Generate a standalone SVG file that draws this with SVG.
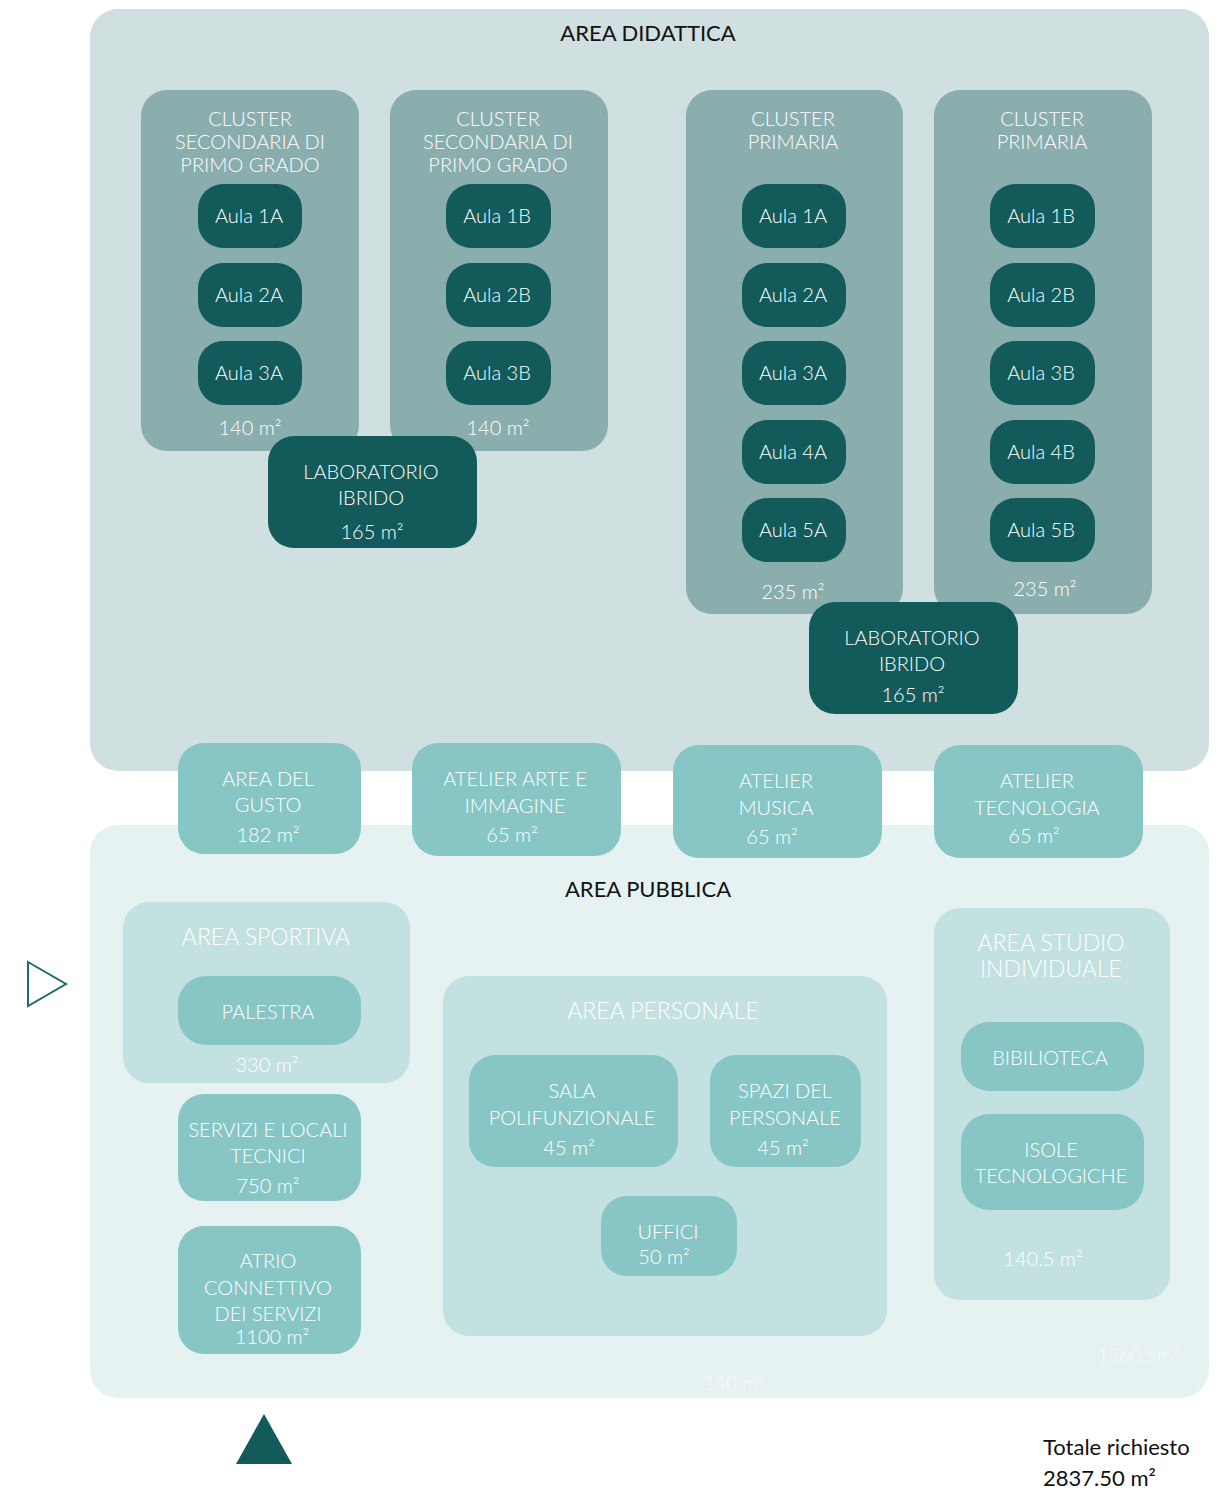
<svg xmlns="http://www.w3.org/2000/svg" width="1226" height="1493" viewBox="0 0 1226 1493">
  <style>
    text { font-family: "Lato", "Noto Sans", "Liberation Sans", sans-serif; text-anchor: middle; }
    .zone-did { fill: #d0dfdf; }
    .zone-pub { fill: #e6f2f2; }
    .cluster { fill: #8aadad; }
    .aula { fill: #135a5a; }
    .light { fill: #87c6c5; }
    .sub { fill: #c2e1e0; }
    .t { fill: #ffffff; font-size: 20px; font-weight: 300; }
    .tl { fill: #ffffff; font-size: 20px; font-weight: 300; }
    .head { fill: #111111; font-size: 22px; font-weight: 400; }
    .sect { fill: #ffffff; font-size: 23px; font-weight: 300; }
    .faint { fill: #f4fafa; font-size: 19px; font-weight: 300; }
    .total { fill: #111111; font-size: 22px; font-weight: 400; text-anchor: start; }
  </style>

  <!-- main zones -->
  <g id="area-didattica">
    <rect class="zone-did" x="90" y="9" width="1119" height="762" rx="28"/>
    <text class="head" x="648" y="41">AREA DIDATTICA</text>
  </g>
  <g id="area-pubblica">
    <rect class="zone-pub" x="90" y="825" width="1119" height="573" rx="28"/>
    <text class="head" x="648" y="897">AREA PUBBLICA</text>
    <text class="faint" x="1138" y="1362">1360.5m²</text>
    <text class="faint" x="734" y="1390">140 m²</text>
  </g>

  <!-- clusters: secondaria -->
  <g id="cluster-sec-a">
    <rect class="cluster" x="141" y="90" width="218" height="361" rx="26"/>
    <text class="tl" x="250" y="126">CLUSTER</text>
    <text class="tl" x="250" y="149">SECONDARIA DI</text>
    <text class="tl" x="250" y="172">PRIMO GRADO</text>
    <text class="tl" x="250" y="435">140 m²</text>
  </g>
  <g id="cluster-sec-b">
    <rect class="cluster" x="390" y="90" width="218" height="361" rx="26"/>
    <text class="tl" x="498" y="126">CLUSTER</text>
    <text class="tl" x="498" y="149">SECONDARIA DI</text>
    <text class="tl" x="498" y="172">PRIMO GRADO</text>
    <text class="tl" x="498" y="435">140 m²</text>
  </g>
  <!-- clusters: primaria -->
  <g id="cluster-pri-a">
    <rect class="cluster" x="686" y="90" width="217" height="524" rx="26"/>
    <text class="tl" x="793" y="126">CLUSTER</text>
    <text class="tl" x="793" y="149">PRIMARIA</text>
    <text class="tl" x="793" y="599">235 m²</text>
  </g>
  <g id="cluster-pri-b">
    <rect class="cluster" x="934" y="90" width="218" height="524" rx="26"/>
    <text class="tl" x="1042" y="126">CLUSTER</text>
    <text class="tl" x="1042" y="149">PRIMARIA</text>
    <text class="tl" x="1045" y="596">235 m²</text>
  </g>

  <!-- classrooms -->
  <g id="aula-sec-1a"><rect class="aula" x="198" y="184" width="104" height="64" rx="25"/><text class="t" x="249" y="223">Aula 1A</text></g>
  <g id="aula-sec-2a"><rect class="aula" x="198" y="263" width="104" height="64" rx="25"/><text class="t" x="249" y="302">Aula 2A</text></g>
  <g id="aula-sec-3a"><rect class="aula" x="198" y="341" width="104" height="64" rx="25"/><text class="t" x="249" y="380">Aula 3A</text></g>
  <g id="aula-sec-1b"><rect class="aula" x="446" y="184" width="105" height="64" rx="25"/><text class="t" x="497" y="223">Aula 1B</text></g>
  <g id="aula-sec-2b"><rect class="aula" x="446" y="263" width="105" height="64" rx="25"/><text class="t" x="497" y="302">Aula 2B</text></g>
  <g id="aula-sec-3b"><rect class="aula" x="446" y="341" width="105" height="64" rx="25"/><text class="t" x="497" y="380">Aula 3B</text></g>

  <g id="aula-pri-1a"><rect class="aula" x="742" y="184" width="104" height="64" rx="25"/><text class="t" x="793" y="223">Aula 1A</text></g>
  <g id="aula-pri-2a"><rect class="aula" x="742" y="263" width="104" height="64" rx="25"/><text class="t" x="793" y="302">Aula 2A</text></g>
  <g id="aula-pri-3a"><rect class="aula" x="742" y="341" width="104" height="64" rx="25"/><text class="t" x="793" y="380">Aula 3A</text></g>
  <g id="aula-pri-4a"><rect class="aula" x="742" y="420" width="104" height="64" rx="25"/><text class="t" x="793" y="459">Aula 4A</text></g>
  <g id="aula-pri-5a"><rect class="aula" x="742" y="498" width="104" height="64" rx="25"/><text class="t" x="793" y="537">Aula 5A</text></g>
  <g id="aula-pri-1b"><rect class="aula" x="990" y="184" width="105" height="64" rx="25"/><text class="t" x="1041" y="223">Aula 1B</text></g>
  <g id="aula-pri-2b"><rect class="aula" x="990" y="263" width="105" height="64" rx="25"/><text class="t" x="1041" y="302">Aula 2B</text></g>
  <g id="aula-pri-3b"><rect class="aula" x="990" y="341" width="105" height="64" rx="25"/><text class="t" x="1041" y="380">Aula 3B</text></g>
  <g id="aula-pri-4b"><rect class="aula" x="990" y="420" width="105" height="64" rx="25"/><text class="t" x="1041" y="459">Aula 4B</text></g>
  <g id="aula-pri-5b"><rect class="aula" x="990" y="498" width="105" height="64" rx="25"/><text class="t" x="1041" y="537">Aula 5B</text></g>

  <!-- hybrid labs -->
  <g id="lab-sec">
    <rect class="aula" x="268" y="436" width="209" height="112" rx="26"/>
    <text class="tl" x="371" y="479">LABORATORIO</text>
    <text class="tl" x="371" y="505">IBRIDO</text>
    <text class="tl" x="372" y="539">165 m²</text>
  </g>
  <g id="lab-pri">
    <rect class="aula" x="809" y="602" width="209" height="112" rx="26"/>
    <text class="tl" x="912" y="645">LABORATORIO</text>
    <text class="tl" x="912" y="671">IBRIDO</text>
    <text class="tl" x="913" y="702">165 m²</text>
  </g>

  <!-- ateliers straddling both zones -->
  <g id="area-gusto">
    <rect class="light" x="178" y="743" width="183" height="111" rx="26"/>
    <text class="tl" x="268" y="786">AREA DEL</text>
    <text class="tl" x="268" y="812">GUSTO</text>
    <text class="tl" x="268" y="842">182 m²</text>
  </g>
  <g id="atelier-arte">
    <rect class="light" x="412" y="743" width="209" height="113" rx="26"/>
    <text class="tl" x="515" y="786">ATELIER ARTE E</text>
    <text class="tl" x="515" y="813">IMMAGINE</text>
    <text class="tl" x="512" y="842">65 m²</text>
  </g>
  <g id="atelier-musica">
    <rect class="light" x="673" y="745" width="209" height="113" rx="26"/>
    <text class="tl" x="776" y="788">ATELIER</text>
    <text class="tl" x="776" y="815">MUSICA</text>
    <text class="tl" x="772" y="844">65 m²</text>
  </g>
  <g id="atelier-tecnologia">
    <rect class="light" x="934" y="745" width="209" height="113" rx="26"/>
    <text class="tl" x="1037" y="788">ATELIER</text>
    <text class="tl" x="1037" y="815">TECNOLOGIA</text>
    <text class="tl" x="1034" y="843">65 m²</text>
  </g>

  <!-- sport area -->
  <g id="area-sportiva">
    <rect class="sub" x="123" y="902" width="287" height="181" rx="26"/>
    <text class="sect" x="266" y="945">AREA SPORTIVA</text>
    <text class="tl" x="267" y="1072">330 m²</text>
  </g>
  <g id="palestra">
    <rect class="light" x="178" y="976" width="183" height="69" rx="28"/>
    <text class="tl" x="268" y="1019">PALESTRA</text>
  </g>
  <g id="servizi">
    <rect class="light" x="178" y="1094" width="183" height="107" rx="26"/>
    <text class="tl" x="268" y="1137">SERVIZI E LOCALI</text>
    <text class="tl" x="268" y="1163">TECNICI</text>
    <text class="tl" x="268" y="1193">750 m²</text>
  </g>
  <g id="atrio">
    <rect class="light" x="178" y="1226" width="183" height="128" rx="26"/>
    <text class="tl" x="268" y="1268">ATRIO</text>
    <text class="tl" x="268" y="1295">CONNETTIVO</text>
    <text class="tl" x="268" y="1321">DEI SERVIZI</text>
    <text class="tl" x="272" y="1344">1100 m²</text>
  </g>

  <!-- staff area -->
  <g id="area-personale">
    <rect class="sub" x="443" y="976" width="444" height="360" rx="26"/>
    <text class="sect" x="663" y="1019">AREA PERSONALE</text>
  </g>
  <g id="sala-polifunzionale">
    <rect class="light" x="469" y="1055" width="209" height="112" rx="26"/>
    <text class="tl" x="572" y="1098">SALA</text>
    <text class="tl" x="572" y="1125">POLIFUNZIONALE</text>
    <text class="tl" x="569" y="1155">45 m²</text>
  </g>
  <g id="spazi-personale">
    <rect class="light" x="710" y="1055" width="151" height="112" rx="26"/>
    <text class="tl" x="785" y="1098">SPAZI DEL</text>
    <text class="tl" x="785" y="1125">PERSONALE</text>
    <text class="tl" x="783" y="1155">45 m²</text>
  </g>
  <g id="uffici">
    <rect class="light" x="601" y="1196" width="136" height="80" rx="26"/>
    <text class="tl" x="668" y="1239">UFFICI</text>
    <text class="tl" x="664" y="1264">50 m²</text>
  </g>

  <!-- individual study area -->
  <g id="area-studio">
    <rect class="sub" x="934" y="908" width="236" height="392" rx="26"/>
    <text class="sect" x="1051" y="951">AREA STUDIO</text>
    <text class="sect" x="1051" y="977">INDIVIDUALE</text>
    <text class="tl" x="1043" y="1266">140.5 m²</text>
  </g>
  <g id="biblioteca">
    <rect class="light" x="961" y="1022" width="183" height="69" rx="28"/>
    <text class="tl" x="1050" y="1065">BIBILIOTECA</text>
  </g>
  <g id="isole-tecnologiche">
    <rect class="light" x="961" y="1114" width="183" height="96" rx="28"/>
    <text class="tl" x="1051" y="1157">ISOLE</text>
    <text class="tl" x="1051" y="1183">TECNOLOGICHE</text>
  </g>

  <!-- entrance markers -->
  <g id="connectors">
    <polygon points="28,962 66,984 28,1006" fill="none" stroke="#1f6a6e" stroke-width="2"/>
    <polygon points="236,1464 264,1414 292,1464" fill="#135a5a"/>
  </g>

  <!-- total -->
  <g id="totale">
    <text class="total" x="1043" y="1455">Totale richiesto</text>
    <text class="total" x="1043" y="1486">2837.50 m²</text>
  </g>
</svg>
